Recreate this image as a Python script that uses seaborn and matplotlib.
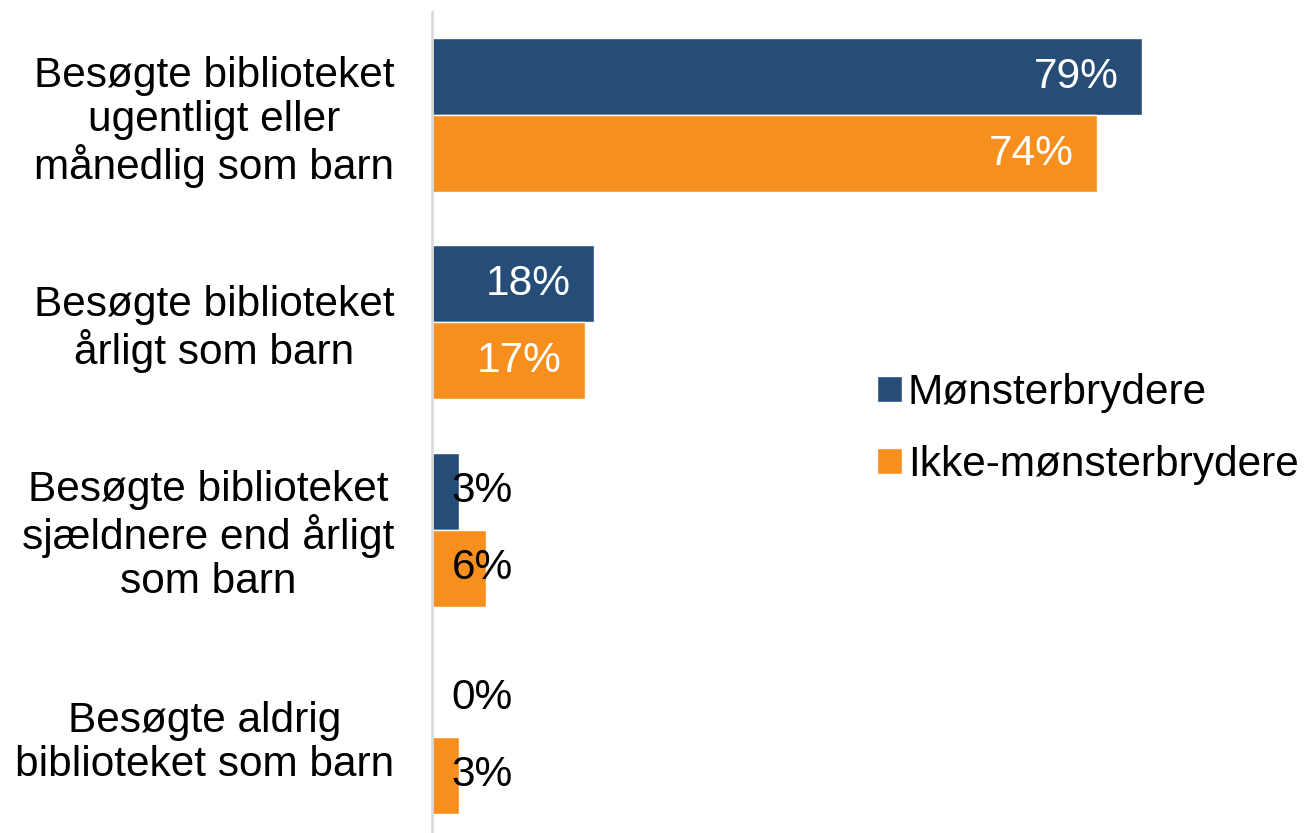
import numpy as np
import matplotlib.pyplot as plt
import seaborn as sns
import pandas as pd

# dati
categorie = [
    "Besøgte biblioteket\nugentligt eller\nmånedlig som barn",
    "Besøgte biblioteket\nårligt som barn",
    "Besøgte biblioteket\nsjældnere end årligt\nsom barn",
    "Besøgte aldrig\nbiblioteket som barn",
]
serie = ["Mønsterbrydere", "Ikke-mønsterbrydere"]
monsterbrydere = [79, 18, 3, 0]
ikke_monsterbrydere = [74, 17, 6, 3]
colori = ["#264D78", "#F78F1E"]

df = pd.DataFrame({
    "kategori": categorie * 2,
    "gruppe": [serie[0]] * 4 + [serie[1]] * 4,
    "procent": monsterbrydere + ikke_monsterbrydere,
})

sns.set_style("white")
plt.rcParams["font.family"] = ["Liberation Sans", "DejaVu Sans"]
plt.rcParams["text.color"] = "black"
plt.rcParams["ytick.color"] = "black"

fs = 30.5

fig = plt.figure(figsize=(13.04, 8.33), dpi=100)
ax = fig.add_axes([432 / 1304, 0, 872 / 1304, 821 / 833])

sns.barplot(data=df, y="kategori", x="procent", hue="gruppe", orient="h",
            palette=colori, width=0.744, saturation=1, ax=ax, legend=True)

ax.set_xlim(0, 97)
ax.set_ylim(3.464, -0.498)
ax.set_xlabel("")
ax.set_ylabel("")
ax.set_xticks([])
for s in ["top", "right", "bottom"]:
    ax.spines[s].set_visible(False)
ax.spines["left"].set_color("#d9d9d9")
ax.spines["left"].set_linewidth(2)
ax.tick_params(axis="y", length=0, pad=27, labelsize=fs, labelcolor="black")
plt.setp(ax.get_yticklabels(), multialignment="center", linespacing=1.13)

# etichette dei valori
for cont in ax.containers:
    for bar in cont:
        v = bar.get_width()
        y = bar.get_y() + bar.get_height() / 2
        if v >= 10:
            ax.text(v - 2.6, y, f"{v:.0f}%", ha="right", va="center",
                    color="white", fontsize=fs)
        else:
            ax.text(2.2, y, f"{v:.0f}%", ha="left", va="center",
                    color="black", fontsize=fs)

leg = ax.legend(loc="center left", bbox_to_anchor=(860 / 1304, 404 / 833),
                bbox_transform=fig.transFigure, frameon=False, fontsize=fs,
                handlelength=0.58, handleheight=0.58, handletextpad=0.15,
                labelspacing=0.75, borderaxespad=0)

fig.savefig("out.png", dpi=100)
